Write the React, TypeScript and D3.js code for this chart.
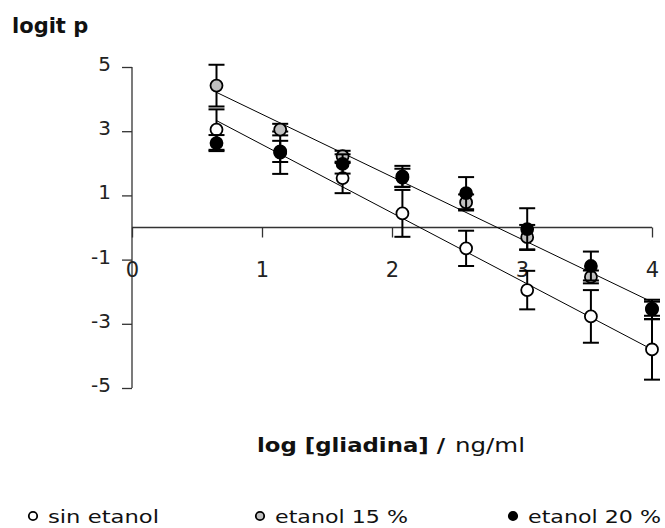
import React, { useEffect, useRef } from 'react';
import * as d3 from 'd3';

// log [gliadina] values (x) and logit p per series
const logGliadina = [0.65, 1.14, 1.62, 2.08, 2.57, 3.04, 3.53, 4.0];
const sinEtanol = [3.05, 2.33, 1.54, 0.44, -0.65, -1.95, -2.77, -3.8];
const sinEtanolErr = [0.63, 0.66, 0.47, 0.73, 0.55, 0.6, 0.82, 0.94];
const etanol15 = [4.42, 3.05, 2.22, 1.55, 0.78, -0.3, -1.54, -2.55];
const etanol15Err = [0.65, 0.18, 0.17, 0.28, 0.25, 0.38, 0.2, 0.3];
const etanol20 = [2.63, 2.37, 1.98, 1.59, 1.07, -0.05, -1.2, -2.53];
const etanol20Err = [0.25, 0.33, 0.3, 0.33, 0.5, 0.65, 0.45, 0.22];

// fitted lines (end points)
const trendX = [0.65, 4.0];
const trendEtanol = [4.21, -2.32];
const trendSinEtanol = [3.33, -3.8];

const xTicks = [0, 1, 2, 3, 4];
const yTicks = [5, 3, 1, -1, -3, -5];

const seriesNames = ['sin etanol', 'etanol 15 %', 'etanol 20 %'];
const seriesFill = ['#ffffff', '#c0c0c0', '#000000'];

const W = 665;
const H = 528;
const FONT = "'DejaVu Sans', sans-serif";

function LogitChart() {
  const ref = useRef<SVGSVGElement>(null);

  useEffect(() => {
    const svg = d3.select(ref.current);
    svg.selectAll('*').remove();

    const x = d3.scaleLinear().domain([0, 4]).range([132, 652]);
    const y = d3.scaleLinear().domain([-5, 5]).range([388, 67]);

    // y axis
    const yAxis = d3.axisLeft(y).tickValues(yTicks).tickSize(10).tickFormat(d3.format('d'));
    const gy = svg.append('g').attr('transform', `translate(${x(0)},0)`).call(yAxis);
    gy.select('.domain').attr('stroke', '#333').attr('stroke-width', 1.3).attr('d', `M0,${y(5)}V${y(-5)}`);
    gy.selectAll('.tick line').attr('stroke', '#333').attr('stroke-width', 1.3);
    gy.selectAll('.tick text')
      .attr('x', -21)
      .attr('dy', '0.32em')
      .attr('y', -3)
      .style('font-family', FONT)
      .style('font-size', '20px')
      .attr('fill', '#222')
      .text((d: any) => (d < 0 ? '-' + Math.abs(d) : String(d)));

    // x axis at y = 0
    const xAxis = d3.axisBottom(x).tickValues(xTicks).tickSize(10).tickFormat(d3.format('d'));
    const gx = svg.append('g').attr('transform', `translate(0,${y(0)})`).call(xAxis);
    gx.select('.domain').attr('stroke', '#333').attr('stroke-width', 1.3).attr('d', `M${x(0)},0H${x(4)}`);
    gx.selectAll('.tick line').attr('stroke', '#333').attr('stroke-width', 1.3);
    gx.selectAll('.tick text')
      .attr('y', 42)
      .attr('dy', '0.35em')
      .style('font-family', FONT)
      .style('font-size', '21px')
      .attr('fill', '#222');

    // fitted lines
    const line = d3.line<[number, number]>().x(d => x(d[0])).y(d => y(d[1]));
    [trendEtanol, trendSinEtanol].forEach(t => {
      svg.append('path')
        .datum(trendX.map((v, i) => [v, t[i]] as [number, number]))
        .attr('d', line)
        .attr('fill', 'none')
        .attr('stroke', '#000')
        .attr('stroke-width', 1);
    });

    const series = [
      { v: sinEtanol, e: sinEtanolErr, fill: seriesFill[0] },
      { v: etanol15, e: etanol15Err, fill: seriesFill[1] },
      { v: etanol20, e: etanol20Err, fill: seriesFill[2] },
    ];

    series.forEach(s => {
      const g = svg.append('g');
      const pts = logGliadina.map((lx, i) => ({ lx, v: s.v[i], e: s.e[i] }));
      g.selectAll('line.bar')
        .data(pts)
        .enter()
        .append('line')
        .attr('x1', d => x(d.lx)).attr('x2', d => x(d.lx))
        .attr('y1', d => y(d.v + d.e)).attr('y2', d => y(d.v - d.e))
        .attr('stroke', '#000').attr('stroke-width', 2);
      [1, -1].forEach(sign => {
        g.selectAll('line.cap' + sign)
          .data(pts)
          .enter()
          .append('line')
          .attr('x1', d => x(d.lx) - 8).attr('x2', d => x(d.lx) + 8)
          .attr('y1', d => y(d.v + sign * d.e)).attr('y2', d => y(d.v + sign * d.e))
          .attr('stroke', '#000').attr('stroke-width', 2);
      });
      g.selectAll('circle')
        .data(pts)
        .enter()
        .append('circle')
        .attr('cx', d => x(d.lx))
        .attr('cy', d => y(d.v))
        .attr('r', 6)
        .attr('fill', s.fill)
        .attr('stroke', '#000')
        .attr('stroke-width', 1.8);
    });

    // titles
    svg.append('text')
      .attr('x', 12).attr('y', 33)
      .style('font-family', FONT).style('font-size', '21px').style('font-weight', 'bold')
      .attr('fill', '#111')
      .text('logit p');

    const xt = svg.append('text')
      .attr('x', 257).attr('y', 452)
      .style('font-family', FONT).style('font-size', '20px')
      .attr('fill', '#111');
    xt.append('tspan').style('font-weight', 'bold')
      .attr('textLength', 188).attr('lengthAdjust', 'spacingAndGlyphs')
      .text('log [gliadina] /');
    xt.append('tspan').attr('x', 455)
      .attr('textLength', 70).attr('lengthAdjust', 'spacingAndGlyphs')
      .text('ng/ml');

    // legend
    const legX = [33, 260, 513];
    const legLen = [111, 133, 133];
    seriesNames.forEach((name, i) => {
      svg.append('circle')
        .attr('cx', legX[i]).attr('cy', 516)
        .attr('r', 4.2)
        .attr('fill', seriesFill[i])
        .attr('stroke', '#000')
        .attr('stroke-width', 1.8);
      svg.append('text')
        .attr('x', legX[i] + 15).attr('y', 523)
        .attr('textLength', legLen[i])
        .attr('lengthAdjust', 'spacingAndGlyphs')
        .style('font-family', FONT).style('font-size', '18px')
        .attr('fill', '#111')
        .text(name);
    });
  }, []);

  return (
    <svg
      ref={ref}
      width={W}
      height={H}
      style={{ position: 'absolute', left: 0, top: 0, background: '#fff' }}
    />
  );
}

export default function App() {
  return <LogitChart />;
}
